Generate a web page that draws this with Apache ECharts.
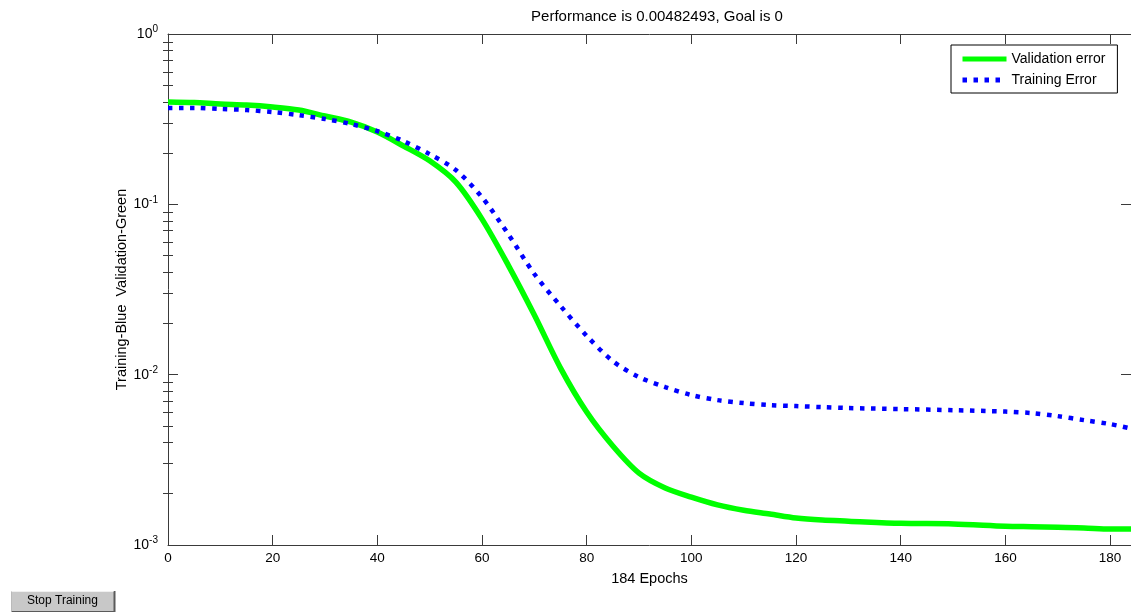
<!DOCTYPE html>
<html>
<head>
<meta charset="utf-8">
<title>Performance</title>
<script src="https://cdn.jsdelivr.net/npm/echarts@6/dist/echarts.min.js"></script>
<style>
  html, body { margin: 0; padding: 0; background: #ffffff; }
  #chart { width: 1131px; height: 612px; }
</style>
</head>
<body>
<div id="chart"></div>
<script>
// Epochs at which the error curves are sampled
const epochs = [0, 5, 10, 15, 20, 25, 30, 35, 40, 45, 50, 55, 60, 65, 70, 75, 80, 85, 90, 95,
  100, 105, 110, 115, 120, 125, 130, 140, 150, 160, 165, 170, 175, 180, 184];

// Validation error (green)
const validationErr = [0.399, 0.396, 0.388, 0.383, 0.373, 0.358, 0.330, 0.304, 0.266, 0.220,
  0.180, 0.135, 0.0819, 0.0440, 0.0224, 0.01093, 0.00603, 0.00381, 0.00264, 0.00216,
  0.00191, 0.00172, 0.00160, 0.00152, 0.00144, 0.00140, 0.00138, 0.00134, 0.00133, 0.00129,
  0.00128, 0.00127, 0.00126, 0.00124, 0.00124];

// Training error (blue)
const trainingErr = [0.368, 0.368, 0.363, 0.358, 0.348, 0.334, 0.317, 0.296, 0.269, 0.235,
  0.197, 0.159, 0.110, 0.0669, 0.0390, 0.0253, 0.0169, 0.0120, 0.00968, 0.00846,
  0.00759, 0.00709, 0.00681, 0.00663, 0.00654, 0.00645, 0.00637, 0.00628, 0.00619, 0.00607,
  0.00595, 0.00571, 0.00541, 0.00513, 0.00482493];

const xTicks = [0, 20, 40, 60, 80, 100, 120, 140, 160, 180];
const yDecades = [0.001, 0.01, 0.1, 1];

const titleText = 'Performance is 0.00482493, Goal is 0';
const xName = '184 Epochs';
const yName = 'Training-Blue  Validation-Green';
const seriesNames = ['Validation error', 'Training Error'];
const buttonText = 'Stop Training';

// Minor log ticks: 2..9 within every decade
const minorTicks = [];
for (let e = -3; e < 0; e++) {
  for (let k = 2; k <= 9; k++) minorTicks.push(+(k * Math.pow(10, e)).toPrecision(3));
}

const FONT = '"Liberation Sans", Arial, sans-serif';
const AXIS_COLOR = '#3a3a3a';

const pairs = (ys) => epochs.map((e, i) => [e, ys[i]]);

const logAxisBase = {
  type: 'log',
  logBase: 10,
  min: 0.001,
  max: 1,
  splitLine: { show: false },
  minorSplitLine: { show: false }
};

const chart = echarts.init(document.getElementById('chart'), null, { renderer: 'canvas' });

chart.setOption({
  animation: false,
  backgroundColor: '#ffffff',
  textStyle: { fontFamily: FONT },
  title: {
    text: titleText,
    left: 652,
    top: 4,
    textAlign: 'center',
    textStyle: { fontFamily: FONT, fontSize: 15, fontWeight: 'normal', color: '#000' }
  },
  grid: { left: 168, top: 34, right: -6, bottom: 67, containLabel: false },
  legend: {
    orient: 'vertical',
    left: 951,
    top: 45,
    padding: [7, 12, 6, 9],
    itemWidth: 44,
    itemHeight: 14,
    itemGap: 7,
    borderColor: '#000',
    borderWidth: 1,
    backgroundColor: '#fff',
    itemStyle: { opacity: 0, borderWidth: 0 },
    lineStyle: { width: 5 },
    textStyle: { fontFamily: FONT, fontSize: 14, color: '#000' },
    data: seriesNames
  },
  xAxis: [
    {
      type: 'value',
      min: 0,
      max: 184,
      interval: 20,
      position: 'bottom',
      name: xName,
      nameLocation: 'middle',
      nameGap: 26,
      nameTextStyle: { fontFamily: FONT, fontSize: 14.5, color: '#000' },
      axisLine: { show: true, onZero: false, lineStyle: { color: AXIS_COLOR, width: 1 } },
      axisTick: { show: true, inside: true, length: 10, lineStyle: { color: AXIS_COLOR } },
      axisLabel: {
        fontFamily: FONT, fontSize: 13.5, color: '#000', margin: 6,
        customValues: xTicks
      },
      splitLine: { show: false }
    },
    {
      type: 'value',
      min: 0,
      max: 184,
      interval: 20,
      position: 'top',
      axisLine: { show: true, onZero: false, lineStyle: { color: AXIS_COLOR, width: 1 } },
      axisTick: { show: true, inside: true, length: 10, lineStyle: { color: AXIS_COLOR } },
      axisLabel: { show: false },
      splitLine: { show: false }
    }
  ],
  yAxis: [
    Object.assign({}, logAxisBase, {
      position: 'left',
      name: yName,
      nameLocation: 'middle',
      nameGap: 39,
      nameMoveOverlap: false,
      nameRotate: 90,
      nameTextStyle: { fontFamily: FONT, fontSize: 14.5, color: '#000' },
      axisLine: { show: true, onZero: false, lineStyle: { color: AXIS_COLOR, width: 1 } },
      axisTick: { show: true, inside: true, length: 10, lineStyle: { color: AXIS_COLOR }, customValues: yDecades },
      axisLabel: {
        margin: 10,
        customValues: yDecades,
        formatter: (v) => '{b|10}{s|' + Math.round(Math.log10(v)) + '}',
        rich: {
          b: { fontFamily: FONT, fontSize: 14, color: '#000' },
          s: { fontFamily: FONT, fontSize: 10, color: '#000', verticalAlign: 'top', padding: [0, 0, 9, 0] }
        }
      }
    }),
    Object.assign({}, logAxisBase, {
      position: 'left',
      axisLine: { show: false },
      axisTick: { show: true, inside: true, length: 5, lineStyle: { color: AXIS_COLOR }, customValues: minorTicks },
      axisLabel: { show: false }
    }),
    Object.assign({}, logAxisBase, {
      position: 'right',
      axisLine: { show: true, onZero: false, lineStyle: { color: AXIS_COLOR, width: 1 } },
      axisTick: { show: true, inside: true, length: 10, lineStyle: { color: AXIS_COLOR }, customValues: yDecades },
      axisLabel: { show: false }
    }),
    Object.assign({}, logAxisBase, {
      position: 'right',
      axisLine: { show: false },
      axisTick: { show: true, inside: true, length: 5, lineStyle: { color: AXIS_COLOR }, customValues: minorTicks },
      axisLabel: { show: false }
    })
  ],
  series: [
    {
      name: seriesNames[0],
      type: 'line',
      xAxisIndex: 0,
      yAxisIndex: 0,
      data: pairs(validationErr),
      symbol: 'none',
      smooth: 0.3,
      lineStyle: { color: '#00ff00', width: 5.5, cap: 'butt' },
      itemStyle: { color: '#00ff00' },
      z: 2
    },
    {
      name: seriesNames[1],
      type: 'line',
      xAxisIndex: 0,
      yAxisIndex: 0,
      data: pairs(trainingErr),
      symbol: 'none',
      smooth: 0.3,
      lineStyle: { color: '#0000ff', width: 4.5, type: [4.5, 6.5], cap: 'butt' },
      itemStyle: { color: '#0000ff' },
      z: 3
    }
  ],
  graphic: [
    {
      type: 'group',
      left: 9,
      top: 589,
      children: [
        { type: 'rect', shape: { x: 0, y: 0, width: 104, height: 23 }, style: { fill: '#5a5a5a' } },
        { type: 'rect', shape: { x: 0, y: 0, width: 102, height: 20 }, style: { fill: '#c8c8c8' } },
        { type: 'line', shape: { x1: 0, y1: 0.5, x2: 102, y2: 0.5 }, style: { stroke: '#f0f0f0', lineWidth: 1 } },
        {
          type: 'text',
          style: {
            x: 51, y: 10, text: buttonText, align: 'center', verticalAlign: 'middle',
            fontFamily: FONT, fontSize: 12, fill: '#000'
          }
        }
      ]
    }
  ]
});
</script>
</body>
</html>
